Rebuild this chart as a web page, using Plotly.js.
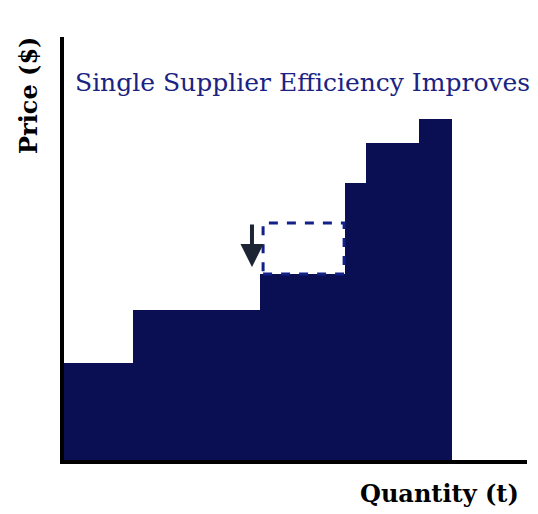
<!DOCTYPE html>
<html>
<head>
<meta charset="utf-8">
<script src="https://cdn.plot.ly/plotly-3.0.1.min.js"></script>
<style>html,body{margin:0;padding:0;background:#fff;}#chart{width:538px;height:514px;}</style>
</head>
<body>
<div id="chart"></div>
<script>
// Supply steps: quantity width of each supplier and its price
const supplierWidths = [15, 27.3, 18.4, 4.5, 11.5, 7];
const supplierPrices = [23, 35.5, 44, 65.5, 75, 80.5];
// Improved supplier (index 2): previous price before efficiency gain
const improvedIndex = 2;
const oldPrice = 56;
const titleText = "Single Supplier Efficiency Improves";
const xLabel = "Quantity (t)";
const yLabel = "Price ($)";

const starts = [];
const centers = [];
let acc = 0;
supplierWidths.forEach(w => { starts.push(acc); centers.push(acc + w / 2); acc += w; });

const navy = "#0a0e52";
const bars = {
  type: "bar",
  x: centers,
  y: supplierPrices,
  width: supplierWidths,
  marker: {color: navy, line: {width: 0}},
  hoverinfo: "skip"
};

const s = starts[improvedIndex];
const e = s + supplierWidths[improvedIndex];

const layout = {
  width: 538, height: 514,
  margin: {l: 64, r: 11, t: 37, b: 54},
  paper_bgcolor: "#fff", plot_bgcolor: "#fff",
  showlegend: false,
  bargap: 0,
  xaxis: {range: [0, 100], showgrid: false, zeroline: false, showticklabels: false, ticks: "",
          showline: true, linecolor: "#000", linewidth: 4, fixedrange: true},
  yaxis: {range: [0, 100], showgrid: false, zeroline: false, showticklabels: false, ticks: "",
          showline: true, linecolor: "#000", linewidth: 4, fixedrange: true},
  title: {text: titleText, x: 75/538, xanchor: "left", xref: "container",
          y: 1 - 82/514, yanchor: "middle", yref: "container",
          font: {family: "DejaVu Serif", size: 25, color: "#1a2382"}},
  shapes: [{
    type: "rect", xref: "x", yref: "y",
    x0: s + 0.7, x1: e - 0.2, y0: supplierPrices[improvedIndex], y1: oldPrice,
    fillcolor: "#fff", line: {color: "#13208a", width: 3, dash: "dash"}, layer: "above"
  }],
  annotations: [
    {x: s - 1.7, y: supplierPrices[improvedIndex] + 1.6, ax: s - 1.7, ay: oldPrice, xref: "x", yref: "y",
     axref: "x", ayref: "y", showarrow: true, arrowhead: 2, arrowsize: 1.15, arrowwidth: 4,
     arrowcolor: "#1d2433", text: ""},
    {text: "<b>" + xLabel + "</b>", xref: "paper", yref: "paper", x: (521-64)/463, y: (460-493)/423,
     xanchor: "right", yanchor: "middle", showarrow: false,
     font: {family: "DejaVu Serif", size: 24, color: "#000"}},
    {text: "<b>" + yLabel + "</b>", xref: "paper", yref: "paper", x: (28-64)/463, y: (460-96)/423,
     xanchor: "center", yanchor: "middle", textangle: -90, showarrow: false,
     font: {family: "DejaVu Serif", size: 24, color: "#000"}}
  ]
};

Plotly.newPlot("chart", [bars], layout, {displayModeBar: false, staticPlot: true});
</script>
</body>
</html>
